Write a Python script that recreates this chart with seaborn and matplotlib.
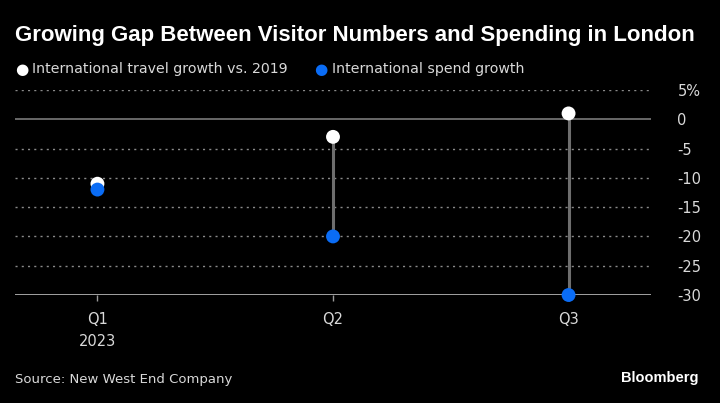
import matplotlib
matplotlib.use("Agg")
import matplotlib.pyplot as plt
import seaborn as sns
import pandas as pd
import numpy as np

quarters = ["Q1", "Q2", "Q3"]
tick_labels = ["Q1\n2023", "Q2", "Q3"]
travel_growth = [-11, -3, 1]
spend_growth = [-12, -20, -30]
y_ticks = [5, 0, -5, -10, -15, -20, -25, -30]
y_tick_labels = ["5%", "0", "-5", "-10", "-15", "-20", "-25", "-30"]

sns.set_theme(style="dark")
plt.rcParams['font.family'] = ['DejaVu Sans']

bg = "#000000"
white = "#ffffff"
blue = "#0a6cf5"
txt = "#d9d9d9"

fig = plt.figure(figsize=(7.2, 4.03), dpi=100, facecolor=bg)
ax = fig.add_axes([15/720, (403-295)/403, (651-15)/720, (295-90)/403])
ax.set_facecolor(bg)

x = np.arange(len(quarters))
df = pd.DataFrame({
    "x": np.concatenate([x, x]),
    "value": travel_growth + spend_growth,
    "series": ["International travel growth vs. 2019"] * 3 + ["International spend growth"] * 3,
})

for t in y_ticks:
    if t == 0:
        ax.axhline(t, color="#7a7a7a", lw=1.2, zorder=1)
    elif t == -30:
        ax.axhline(t, color="#bdbdbd", lw=1.2, zorder=1)
    else:
        ax.axhline(t, color="#8a8a8a", lw=1.0, ls=(0, (1.5, 3)), zorder=1)

ax.vlines(x, spend_growth, travel_growth, color="#6e6e6e", lw=2.2, zorder=2)
sns.scatterplot(data=df, x="x", y="value", hue="series",
                palette={"International travel growth vs. 2019": white,
                         "International spend growth": blue},
                s=100, linewidth=0, ax=ax, zorder=3, legend=False, clip_on=False)

ax.set_xlim(-0.35, 2.35)
ax.set_ylim(-30, 5)
ax.set_xticks(x)
ax.set_xticklabels(tick_labels, color=txt, fontsize=10.5, linespacing=1.6)
ax.yaxis.tick_right()
ax.set_yticks(y_ticks)
ax.set_yticklabels(y_tick_labels, color=txt, fontsize=10.5, ha="left")
ax.tick_params(axis="y", length=0, pad=19)
ax.tick_params(axis="x", length=4, color="#9a9a9a", width=1, pad=8, bottom=True)
for s in ax.spines.values():
    s.set_visible(False)
ax.set_xlabel("")
ax.set_ylabel("")
ax.grid(False)

fig.text(15/720, 1 - 35/403, "Growing Gap Between Visitor Numbers and Spending in London",
         color=white, fontsize=16, fontweight="bold", va="center", ha="left",
         family=["Liberation Sans", "DejaVu Sans"])

ly = 1 - 69/403
fig.text(22/720, ly, "●", color=white, fontsize=11, va="center", ha="center")
fig.text(32/720, ly, "International travel growth vs. 2019", color=txt, fontsize=10.2, va="center", ha="left")
fig.text(321/720, ly, "●", color=blue, fontsize=11, va="center", ha="center")
fig.text(332/720, ly, "International spend growth", color=txt, fontsize=10.2, va="center", ha="left")

fig.text(15/720, 1 - 380/403, "Source: New West End Company", color=txt, fontsize=9.5, va="center", ha="left")
fig.text(698/720, 1 - 378/403, "Bloomberg", color=white, fontsize=10.5, fontweight="bold",
         va="center", ha="right", family=["Liberation Sans", "DejaVu Sans"])

fig.savefig("out.png", dpi=100, facecolor=bg)
